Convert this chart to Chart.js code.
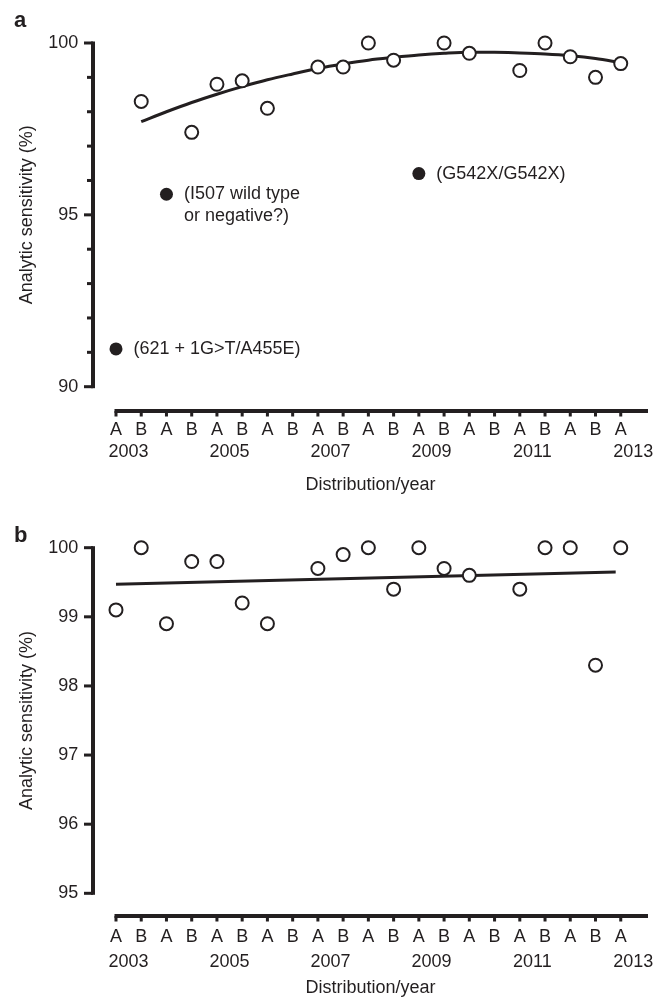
<!DOCTYPE html>
<html>
<head>
<meta charset="utf-8">
<script src="https://cdn.jsdelivr.net/npm/chart.js@4.4.1/dist/chart.umd.min.js"></script>
<style>
  html, body { margin: 0; padding: 0; background: #fff; }
  body { width: 667px; height: 999px; position: relative; overflow: hidden; font-family: "Liberation Sans", Arial, sans-serif; }
  .panel { position: absolute; left: 0; width: 667px; }
  .tag { position: absolute; left: 14px; font-weight: bold; font-size: 22px; line-height: 22px; color: #231f20; }
</style>
</head>
<body>
<div class="panel" style="top:0;height:500px;"><canvas id="chartA"></canvas></div>
<div class="panel" style="top:500px;height:499px;"><canvas id="chartB"></canvas></div>
<div class="tag" style="top:9px;">a</div>
<div class="tag" style="top:524px;">b</div>
<script>
// x categories: distribution A/B per year, years sit between A and B
const distLabels = ["A", "B", "A", "B", "A", "B", "A", "B", "A", "B", "A",
                    "B", "A", "B", "A", "B", "A", "B", "A", "B", "A"];
const yearLabels = ["2003", "2005", "2007", "2009", "2011", "2013"];
const yearPos = [0.5, 4.5, 8.5, 12.5, 16.5, 20.5];

// panel a
const aOpen = [null, 98.3, null, 97.4, 98.8, 98.9, 98.1, null, 99.3, 99.3, 100,
               99.5, null, 100, 99.7, null, 99.2, 100, 99.6, 99.0, 99.4];
const aFilled = [91.1, null, 95.6, null, null, null, null, null, null, null, null,
                 null, 96.2, null, null, null, null, null, null, null, null];
const aFilledNotes = [["(621 + 1G>T/A455E)"], ["(I507 wild type", "or negative?)"], ["(G542X/G542X)"]];
const aTrendX = [1, 2, 3, 4, 5, 6, 7, 8, 9, 10, 11, 12, 13, 14, 15, 16, 17, 18, 19, 20];
const aTrend = [97.71, 98.0, 98.27, 98.51, 98.73, 98.93, 99.1, 99.26, 99.39, 99.5,
                99.58, 99.65, 99.7, 99.73, 99.73, 99.71, 99.68, 99.63, 99.55, 99.43];
const aYLabels = [90, 95, 100];
const aYMinor = [91, 92, 93, 94, 96, 97, 98, 99];

// panel b
const bOpen = [99.1, 100, 98.9, 99.8, 99.8, 99.2, 98.9, null, 99.7, 99.9, 100,
               99.4, 100, 99.7, 99.6, null, 99.4, 100, 100, 98.3, 100];
const bTrendX = [0, 19.8];
const bTrend = [99.47, 99.65];
const bYLabels = [95, 96, 97, 98, 99, 100];

const ink = "#231f20";
const fontName = "'Liberation Sans', Arial, sans-serif";

function toPoints(vals) {
    const pts = [];
    vals.forEach((v, i) => { if (v !== null) pts.push({ x: i, y: v }); });
    return pts;
}

// axis spines drawn by hand: y axis and x axis are detached in the figure
const axisLines = {
    id: "axisLines",
    beforeDatasetsDraw(chart, args, opts) {
        const { ctx, chartArea } = chart;
        const x = chart.scales.x, y = chart.scales.y;
        const left = chartArea.left;
        ctx.save();
        ctx.fillStyle = ink;

        // y spine + ticks
        const yTop = y.getPixelForValue(y.max), yBot = y.getPixelForValue(y.min);
        ctx.fillRect(left - 2, yTop - 1.5, 4, yBot - yTop + 3);
        opts.yMajor.forEach(v => {
            const py = y.getPixelForValue(v);
            ctx.fillRect(left - 9, py - 1.5, 9, 3);
        });
        (opts.yMinor || []).forEach(v => {
            const py = y.getPixelForValue(v);
            ctx.fillRect(left - 6, py - 1.5, 6, 3);
        });

        // x spine + ticks
        const lineY = chartArea.bottom + opts.xGap;
        const x0 = x.getPixelForValue(0);
        ctx.fillRect(x0 - 1.5, lineY - 2, chartArea.right - x0 + 1.5, 4);
        distLabels.forEach((lab, i) => {
            const px = x.getPixelForValue(i);
            ctx.fillRect(px - 1.5, lineY, 3, 5.5);
        });
        ctx.restore();
    },
    afterDatasetsDraw(chart, args, opts) {
        if (!opts.notes) return;
        const { ctx } = chart;
        const meta = chart.getDatasetMeta(opts.noteDataset);
        ctx.save();
        ctx.fillStyle = ink;
        ctx.font = "18px " + fontName;
        ctx.textAlign = "left";
        ctx.textBaseline = "middle";
        meta.data.forEach((el, k) => {
            const lines = opts.notes[k] || [];
            lines.forEach((txt, j) => ctx.fillText(txt, el.x + 17.5, el.y + j * 21.8));
        });
        ctx.restore();
    }
};

function makePanel(id, p) {
    const datasets = [
        {
            data: toPoints(p.open),
            pointRadius: 6.5,
            pointBorderWidth: 2,
            pointBackgroundColor: "#fff",
            pointBorderColor: ink,
            showLine: false,
            clip: false
        }
    ];
    if (p.filled) {
        datasets.push({
            data: toPoints(p.filled),
            pointRadius: 6.5,
            pointBorderWidth: 0,
            pointBackgroundColor: ink,
            pointBorderColor: ink,
            showLine: false,
            clip: false
        });
    }
    datasets.push({
        data: p.trendX.map((v, i) => ({ x: v, y: p.trend[i] })),
        showLine: true,
        pointRadius: 0,
        borderColor: ink,
        borderWidth: 3,
        tension: 0.4,
        cubicInterpolationMode: "monotone",
        clip: false
    });

    const tickFont = { family: fontName, size: 18 };

    new Chart(document.getElementById(id), {
        type: "scatter",
        data: { datasets },
        options: {
            responsive: true,
            maintainAspectRatio: false,
            animation: false,
            events: [],
            layout: { padding: { top: p.padTop, right: 19, bottom: 0, left: 0 } },
            plugins: {
                legend: { display: false },
                tooltip: { enabled: false },
                axisLines: {
                    yMajor: p.yLabels,
                    yMinor: p.yMinor,
                    xGap: p.xGap,
                    notes: p.notes,
                    noteDataset: 1
                }
            },
            scales: {
                x: {
                    type: "linear",
                    position: "bottom",
                    min: -0.911,
                    max: 21.08,
                    weight: 0,
                    grid: { display: false, drawTicks: false },
                    border: { display: false },
                    afterBuildTicks: s => { s.ticks = distLabels.map((l, i) => ({ value: i })); },
                    afterFit: s => { s.height = 52; s.paddingLeft = 0; s.paddingRight = 0; },
                    ticks: {
                        autoSkip: false,
                        maxRotation: 0,
                        padding: p.abPad,
                        color: ink,
                        font: tickFont,
                        callback: v => distLabels[v]
                    }
                },
                x2: {
                    type: "linear",
                    position: "bottom",
                    min: -0.911,
                    max: 21.08,
                    weight: 1,
                    grid: { display: false, drawTicks: false },
                    border: { display: false },
                    afterBuildTicks: s => { s.ticks = yearPos.map(v => ({ value: v })); },
                    afterFit: s => { s.height = p.yearBoxH; s.paddingLeft = 0; s.paddingRight = 0; },
                    ticks: {
                        autoSkip: false,
                        maxRotation: 0,
                        padding: p.yearPad,
                        color: ink,
                        font: tickFont,
                        callback: v => yearLabels[yearPos.indexOf(v)]
                    },
                    title: {
                        display: true,
                        text: "Distribution/year",
                        color: ink,
                        font: { family: fontName, size: 18 },
                        padding: { top: 0, bottom: p.titlePad }
                    }
                },
                y: {
                    type: "linear",
                    min: p.yMin,
                    max: 100,
                    grid: { display: false, drawTicks: false },
                    border: { display: false },
                    afterBuildTicks: s => { s.ticks = p.yLabels.map(v => ({ value: v })); },
                    afterFit: s => { s.width = 93; s.paddingTop = 0; s.paddingBottom = 0; },
                    ticks: {
                        padding: 14.7,
                        color: ink,
                        font: tickFont
                    },
                    title: {
                        display: true,
                        text: "Analytic sensitivity (%)",
                        color: ink,
                        font: { family: fontName, size: 18 },
                        padding: { top: 16, bottom: 0 }
                    }
                }
            }
        },
        plugins: [axisLines]
    });
}

makePanel("chartA", {
    open: aOpen,
    filled: aFilled,
    notes: aFilledNotes,
    trendX: aTrendX,
    trend: aTrend,
    yLabels: aYLabels,
    yMinor: aYMinor,
    yMin: 90,
    padTop: 43,
    xGap: 24.3,
    abPad: 32.8,
    yearBoxH: 61.3,
    yearPad: 2.5,
    titlePad: 4.2
});

makePanel("chartB", {
    open: bOpen,
    filled: null,
    notes: null,
    trendX: bTrendX,
    trend: bTrend,
    yLabels: bYLabels,
    yMinor: null,
    yMin: 95,
    padTop: 47.7,
    xGap: 22.7,
    abPad: 33.2,
    yearBoxH: 53.7,
    yearPad: 5.6,
    titlePad: 0
});
</script>
</body>
</html>
